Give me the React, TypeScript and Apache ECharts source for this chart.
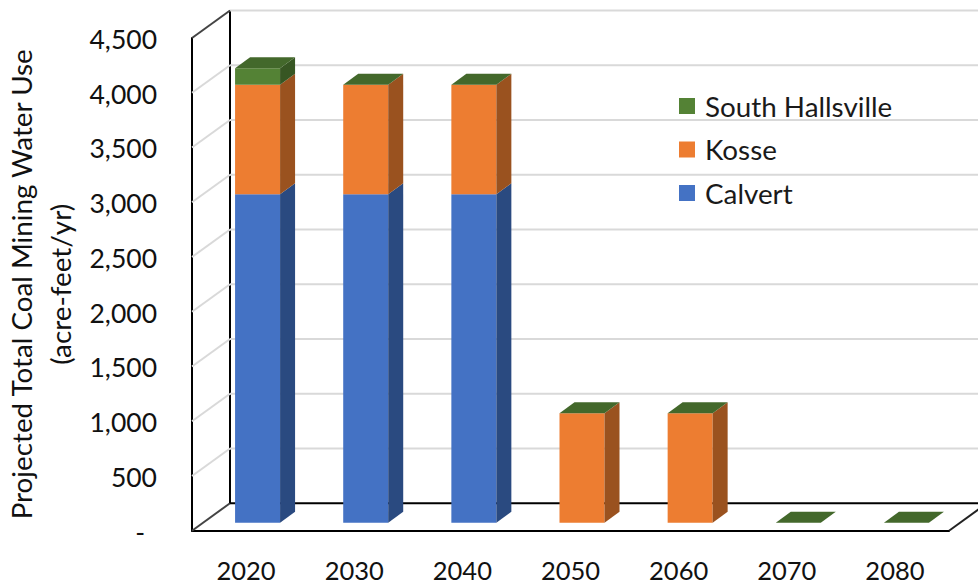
import React, { useEffect, useRef } from "react";
import * as echarts from "echarts";

const years = ["2020", "2030", "2040", "2050", "2060", "2070", "2080"];
const calvert = [3000, 3000, 3000, 0, 0, 0, 0];
const kosse = [1000, 1000, 1000, 1000, 1000, 0, 0];
const southHallsville = [150, 0, 0, 0, 0, 0, 0];
const yTicks = [0, 500, 1000, 1500, 2000, 2500, 3000, 3500, 4000, 4500];

const FONT = "Lato";
const WALL_DX = 38;
const WALL_DY = -27.5;
const BAR_DX = 11.5;
const BAR_DY = -8;
const BAR_W = 45;
const DEPTH_DX = 15;
const DEPTH_DY = -11;
const GRID_GREY = "#d9d9d9";

function makeBarSeries(
  name: string,
  values: number[],
  bases: number[],
  color: string,
  sideColor: string,
  topColor: string | null
) {
  return {
    name,
    type: "custom",
    itemStyle: { color },
    encode: { x: 0, y: 2 },
    z: 5,
    silent: true,
    data: values.map((v, i) => [i, bases[i], bases[i] + v]),
    renderItem: (_params: any, api: any) => {
      const i = api.value(0);
      const p0 = api.coord([i, api.value(1)]);
      const p1 = api.coord([i, api.value(2)]);
      const l = p0[0] + BAR_DX - BAR_W / 2;
      const r = l + BAR_W;
      const b = p0[1] + BAR_DY;
      const t = p1[1] + BAR_DY;
      const children: any[] = [];
      if (b - t > 0.01) {
        children.push({
          type: "polygon",
          shape: { points: [[l, t], [r, t], [r, b], [l, b]] },
          style: { fill: color },
        });
        children.push({
          type: "polygon",
          shape: {
            points: [
              [r, t],
              [r + DEPTH_DX, t + DEPTH_DY],
              [r + DEPTH_DX, b + DEPTH_DY],
              [r, b],
            ],
          },
          style: { fill: sideColor },
        });
      }
      if (topColor) {
        children.push({
          type: "polygon",
          shape: {
            points: [
              [l, t],
              [l + DEPTH_DX, t + DEPTH_DY],
              [r + DEPTH_DX, t + DEPTH_DY],
              [r, t],
            ],
          },
          style: { fill: topColor },
        });
      }
      return { type: "group", children };
    },
  };
}

export default function App() {
  const ref = useRef<HTMLDivElement>(null);
  useEffect(() => {
    const chart = echarts.init(ref.current!, null, { renderer: "svg" });
    const kosseBase = calvert;
    const shBase = calvert.map((v, i) => v + kosse[i]);
    const zeros = calvert.map(() => 0);
    chart.setOption({
      animation: false,
      backgroundColor: "#fff",
      textStyle: { fontFamily: FONT },
      grid: {
        left: 192,
        top: 38,
        width: 757,
        height: 492.7,
        containLabel: false,
        outerBoundsMode: "none",
      },
      legend: {
        orient: "vertical",
        left: 679,
        top: 92,
        padding: 0,
        itemWidth: 16,
        itemHeight: 16,
        itemGap: 15.5,
        icon: "rect",
        data: ["South Hallsville", "Kosse", "Calvert"],
        textStyle: { fontFamily: FONT, fontSize: 27.8, color: "#1a1a1a", padding: [0, 0, 0, 5] },
      },
      xAxis: {
        type: "category",
        data: years,
        axisLine: { show: true, lineStyle: { color: "#000", width: 2 } },
        axisTick: { show: false },
        axisLabel: { fontFamily: FONT, fontSize: 25.5, lineHeight: 22, color: "#111", margin: 28 },
      },
      yAxis: {
        type: "value",
        min: 0,
        max: 4500,
        interval: 500,
        name: "Projected Total Coal Mining Water Use\n(acre-feet/yr)",
        nameLocation: "middle",
        nameRotate: 90,
        nameGap: 112,
        nameMoveOverlap: false,
        nameTextStyle: { fontFamily: FONT, fontSize: 27.8, color: "#111", lineHeight: 39 },
        axisLine: { show: true, onZero: false, lineStyle: { color: "#000", width: 2 } },
        axisTick: { show: false },
        splitLine: { show: false },
        axisLabel: {
          fontFamily: FONT,
          fontSize: 26.5,
          color: "#111",
          margin: 35,
          padding: [2, 0, 0, 0],
          formatter: (v: number) =>
            v === 0 ? "{dash|-}" : v.toLocaleString("en-US"),
          rich: { dash: { fontFamily: FONT, fontSize: 26.5, color: "#111", padding: [0, 12, 0, 0] } },
        },
      },
      series: [
        {
          name: "walls",
          type: "custom",
          silent: true,
          z: 1,
          encode: { x: 0, y: 1 },
          data: yTicks.map((v) => [0, v]),
          renderItem: (params: any, api: any) => {
            const sys = params.coordSys;
            const v = api.value(1);
            const y = api.coord([0, v])[1];
            const left = sys.x;
            const right = sys.x + sys.width;
            const isFloor = v === 0;
            const isTop = v === yTicks[yTicks.length - 1];
            const children: any[] = [
              {
                type: "line",
                shape: {
                  x1: left + WALL_DX,
                  y1: y + WALL_DY,
                  x2: right + WALL_DX,
                  y2: y + WALL_DY,
                },
                style: { stroke: isFloor ? "#000" : GRID_GREY, lineWidth: 2 },
              },
              {
                type: "line",
                shape: { x1: left, y1: y, x2: left + WALL_DX, y2: y + WALL_DY },
                style: {
                  stroke: isFloor || isTop ? "#444" : GRID_GREY,
                  lineWidth: 2,
                },
              },
            ];
            if (isFloor) {
              children.push({
                type: "line",
                shape: { x1: right, y1: y, x2: right + WALL_DX, y2: y + WALL_DY },
                style: { stroke: "#222", lineWidth: 2 },
              });
              children.push({
                type: "line",
                shape: {
                  x1: left + WALL_DX,
                  y1: y + WALL_DY,
                  x2: left + WALL_DX,
                  y2: sys.y + WALL_DY,
                },
                style: { stroke: "#000", lineWidth: 2 },
              });
            }
            return { type: "group", children };
          },
        },
        makeBarSeries("Calvert", calvert, zeros, "#4472c4", "#2a4a80", null),
        makeBarSeries("Kosse", kosse, kosseBase, "#ed7d31", "#9a521f", null),
        makeBarSeries("South Hallsville", southHallsville, shBase, "#548235", "#375623", "#43682b"),
      ],
    });
    return () => chart.dispose();
  }, []);
  return (
    <div
      ref={ref}
      style={{ position: "absolute", left: 0, top: 0, width: 978, height: 583 }}
    />
  );
}
